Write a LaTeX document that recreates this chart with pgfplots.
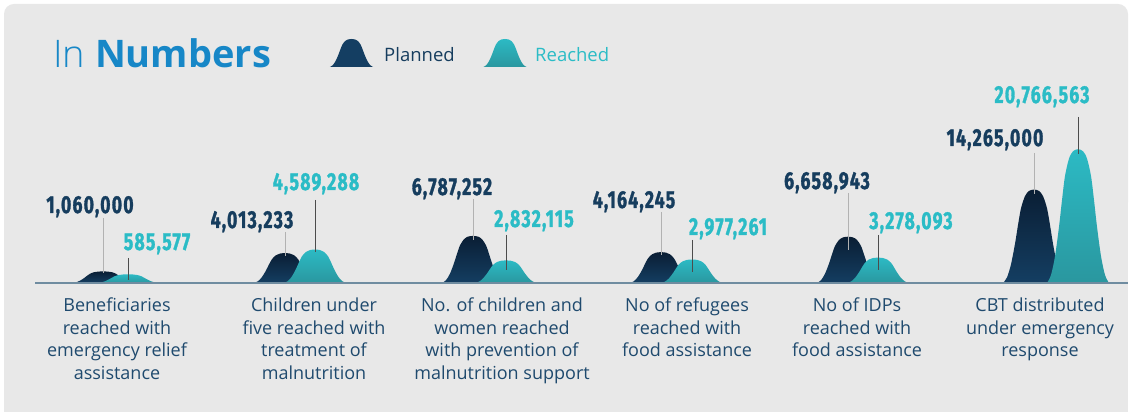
\documentclass[border=0pt]{standalone}
\usepackage{fontspec}
\usepackage{pgfplots}
\usepackage{pgfplotstable}
\pgfplotsset{compat=1.18}
\setmainfont{Open Sans}
\newfontfamily\lightfont{Open Sans Light}
\newfontfamily\numfont{Fira Sans}[FakeStretch=0.72, LetterSpace=5, FakeBold=1.2]
\definecolor{bg}{HTML}{E8E8E8}
\definecolor{pnTop}{HTML}{0A1E34}
\definecolor{pnBot}{HTML}{143E62}
\definecolor{rcTop}{HTML}{2CBAC4}
\definecolor{rcBot}{HTML}{2A979F}
\definecolor{numNavy}{HTML}{163D5E}
\definecolor{numTeal}{HTML}{2BBCC6}
\definecolor{catText}{HTML}{1F4A6E}
\definecolor{titleBlue}{HTML}{1787C7}
\definecolor{baseLine}{HTML}{6F8CA0}

\pgfplotstableread{
u s
-31 0
-27 0.06
-23 0.2
-19 0.42
-16 0.62
-13 0.8
-9 0.93
-5 0.985
0 1
5 0.985
9 0.93
13 0.8
16 0.62
19 0.42
23 0.2
27 0.06
31 0
}\shapetab

% #1 centre (px), #2 value (millions), #3 style
\newcommand\peak[3]{\addplot[draw=none, smooth, #3] table[x expr=\thisrow{u}+#1, y expr=\thisrow{s}*(6.2*#2+5)] {\shapetab};}
\newcommand\leader[4]{\addplot[#4, line width=0.9pt] coordinates {(#1,#2) (#1,#3)};}

\tikzset{
  pl/.style={top color=pnTop, bottom color=pnBot},
  rc/.style={top color=rcTop, bottom color=rcBot},
  numP/.style={font=\numfont\bfseries\fontsize{24.5}{24.5}\selectfont, text=numNavy, inner sep=0pt, anchor=base},
  numR/.style={font=\numfont\bfseries\fontsize{24.5}{24.5}\selectfont, text=numTeal, inner sep=0pt, anchor=base},
  cat/.style={font=\fontsize{18}{22}\selectfont, text=catText, inner sep=0pt, anchor=base},
}
\newcommand\catline[3]{\node[cat] at (axis cs:#1,#2) {#3};}

\begin{document}
\begin{tikzpicture}[x=1pt,y=1pt]
\fill[white] (0,0) rectangle (1132,412);
\fill[bg, rounded corners=10pt] (4,200) rectangle (1128,408);
\fill[bg] (4,0) rectangle (1128,260);
\begin{axis}[at={(0,0)}, anchor=south west, scale only axis,
  width=1132pt, height=412pt, xmin=0, xmax=1132, ymin=-129, ymax=283,
  axis lines=none, clip=false]

% peaks (planned behind, reached in front)
\peak{103}{1.060000}{pl}
\peak{128}{0.585577}{rc}
\peak{285}{4.013233}{pl}
\peak{315}{4.589288}{rc}
\peak{473}{6.787252}{pl}
\peak{506}{2.832115}{rc}
\peak{661}{4.164245}{pl}
\peak{692}{2.977261}{rc}
\peak{848}{6.658943}{pl}
\peak{878}{3.278093}{rc}
\peak{1034}{14.265000}{pl}
\peak{1078}{20.766563}{rc}

% baseline
\addplot[baseLine, line width=1.4pt] coordinates {(35,0) (1128,0)};

% leader lines
\leader{103}{65}{10}{gray!60}
\leader{128}{25}{3}{black!70}
\leader{285}{51}{27}{gray!60}
\leader{315}{83}{31}{black!70}
\leader{473}{84}{43}{gray!60}
\leader{506}{48}{13}{black!70}
\leader{661}{71}{28}{gray!60}
\leader{692}{43}{11}{black!70}
\leader{848}{90}{33}{gray!60}
\leader{878}{48}{13}{black!70}
\leader{1034}{130}{89}{gray!60}
\leader{1078}{166}{129}{black!70}

% value labels
\node[numP] at (axis cs:90,70) {1,060,000};
\node[numR] at (axis cs:157,33) {585,577};
\node[numP] at (axis cs:252,55) {4,013,233};
\node[numR] at (axis cs:316,93) {4,589,288};
\node[numP] at (axis cs:452,88) {6,787,252};
\node[numR] at (axis cs:534,56) {2,832,115};
\node[numP] at (axis cs:634,75) {4,164,245};
\node[numR] at (axis cs:728,48) {2,977,261};
\node[numP] at (axis cs:827,94) {6,658,943};
\node[numR] at (axis cs:911,54) {3,278,093};
\node[numP] at (axis cs:995,137) {14,265,000};
\node[numR] at (axis cs:1042,180) {20,766,563};

% category labels
\catline{117}{-29}{Beneficiaries}
\catline{117}{-51.5}{reached with}
\catline{117}{-74}{emergency relief}
\catline{117}{-96.5}{assistance}
\catline{314}{-29}{Children under}
\catline{314}{-51.5}{five reached with}
\catline{314}{-74}{treatment of}
\catline{314}{-96.5}{malnutrition}
\catline{502}{-29}{No. of children and}
\catline{502}{-51.5}{women reached}
\catline{502}{-74}{with prevention of}
\catline{502}{-96.5}{malnutrition support}
\catline{687}{-29}{No of refugees}
\catline{687}{-51.5}{reached with}
\catline{687}{-74}{food assistance}
\catline{857}{-29}{No of IDPs}
\catline{857}{-51.5}{reached with}
\catline{857}{-74}{food assistance}
\catline{1040}{-29}{CBT distributed}
\catline{1040}{-51.5}{under emergency}
\catline{1040}{-74}{response}

% title and legend
\node[anchor=base west, inner sep=0pt, text=titleBlue, font=\fontsize{38}{38}\selectfont] at (axis cs:53,215) {{\lightfont In} \textbf{Numbers}};
\addplot[draw=none, smooth, fill=pnBot] table[x expr=\thisrow{u}*0.7+351.5, y expr=\thisrow{s}*28+216] {\shapetab};
\addplot[draw=none, smooth, rc] table[x expr=\thisrow{u}*0.7+505, y expr=\thisrow{s}*28+216] {\shapetab};
\node[anchor=base west, inner sep=0pt, text=numNavy, font=\fontsize{18.5}{18.5}\selectfont] at (axis cs:384,221) {Planned};
\node[anchor=base west, inner sep=0pt, text=numTeal, font=\fontsize{18.5}{18.5}\selectfont] at (axis cs:535,221) {Reached};
\end{axis}
\end{tikzpicture}
\end{document}
